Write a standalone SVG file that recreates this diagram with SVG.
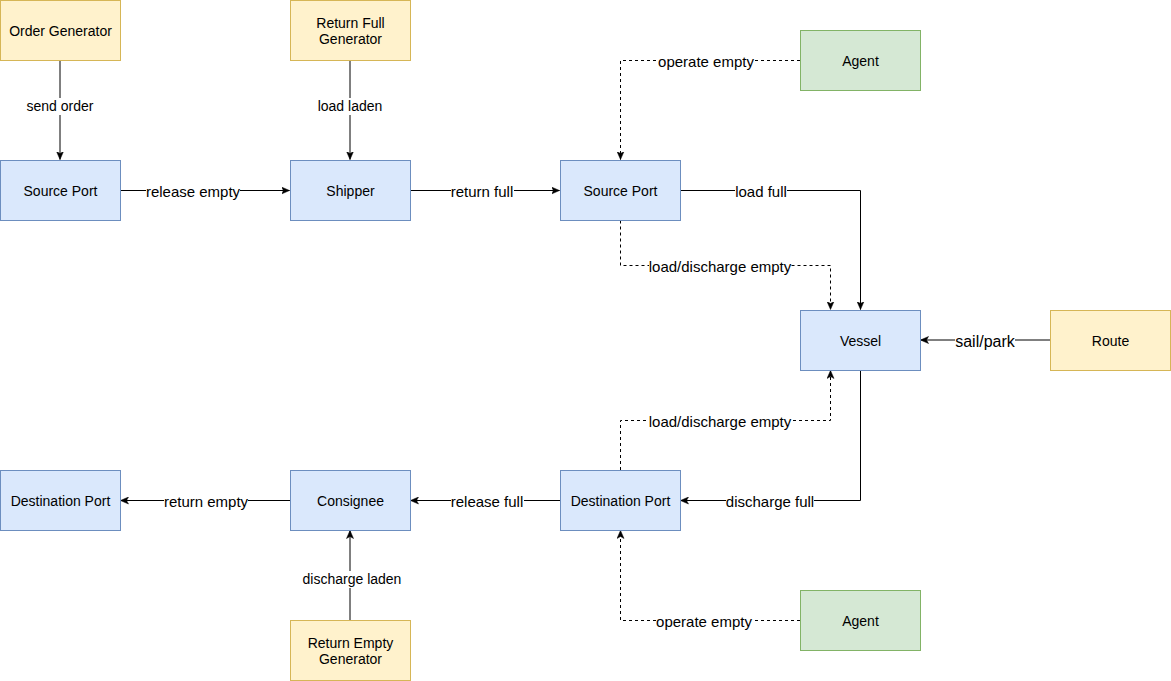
<svg xmlns="http://www.w3.org/2000/svg" width="1171" height="681" viewBox="0 0 1171 681">
<style>
.n rect{stroke-width:1}
.blue{fill:#dae8fc;stroke:#6c8ebf}
.yel{fill:#fff2cc;stroke:#d6b656}
.grn{fill:#d5e8d4;stroke:#82b366}
.t{font-family:"Liberation Sans",Arial,sans-serif;font-size:14px;fill:#000;text-anchor:middle}
.e path{fill:none;stroke:#000;stroke-width:1}
.e .d{stroke-dasharray:3 3}
.lb{fill:#fff;stroke:none}
.l{font-family:"Liberation Sans",Arial,sans-serif;font-size:15px;fill:#000;text-anchor:middle}
.s{font-size:14px}
</style>
<defs>
<marker id="a" viewBox="0 0 8 8" refX="8" refY="4" markerWidth="8" markerHeight="8" markerUnits="userSpaceOnUse" orient="auto">
<path d="M0,0.5 L8,4 L0,7.5 L2,4 Z" fill="#000" stroke="#000" stroke-width="0.5"/>
</marker>
</defs>
<rect width="1171" height="681" fill="#fff"/>

<g id="connectors" class="e">
<path d="M60,60.5 V159.5" marker-end="url(#a)"/>
<path d="M350,60.5 V159.5" marker-end="url(#a)"/>
<path d="M120.5,190.5 H289.5" marker-end="url(#a)"/>
<path d="M410.5,190.5 H559.5" marker-end="url(#a)"/>
<path class="d" d="M800,60.5 H620.5 V159.5" marker-end="url(#a)"/>
<path d="M680.5,190.5 H860.5 V309.5" marker-end="url(#a)"/>
<path class="d" d="M620.5,220.5 V265.5 H830.5 V309.5" marker-end="url(#a)"/>
<path d="M1050,340 H920.5" marker-end="url(#a)"/>
<path d="M860.5,370.5 V500.5 H680.5" marker-end="url(#a)"/>
<path class="d" d="M620.5,470 V420.5 H830.5 V370.5" marker-end="url(#a)"/>
<path class="d" d="M800,620.5 H620.5 V530.5" marker-end="url(#a)"/>
<path d="M560,500.5 H410.5" marker-end="url(#a)"/>
<path d="M290,500.5 H120.5" marker-end="url(#a)"/>
<path d="M350,620 V530.5" marker-end="url(#a)"/>

<rect class="lb" x="26" y="98" width="68" height="17"/>
<text class="l s" x="60" y="111">send order</text>
<rect class="lb" x="317" y="98" width="66" height="17"/>
<text class="l s" x="350" y="111">load laden</text>
<rect class="lb" x="146" y="182" width="94" height="17"/>
<text class="l" x="193" y="197">release empty</text>
<rect class="lb" x="451" y="182" width="63" height="17"/>
<text class="l" x="482" y="197">return full</text>
<rect class="lb" x="735" y="182" width="52" height="17"/>
<text class="l" x="761" y="197">load full</text>
<rect class="lb" x="658" y="52" width="96" height="17"/>
<text class="l" x="706" y="67">operate empty</text>
<rect class="lb" x="649" y="257" width="142" height="17"/>
<text class="l" x="720" y="272">load/discharge empty</text>
<rect class="lb" x="955" y="332" width="60" height="17"/>
<text class="l" x="985" y="347" style="font-size:16px">sail/park</text>
<rect class="lb" x="649" y="412" width="142" height="17"/>
<text class="l" x="720" y="427">load/discharge empty</text>
<rect class="lb" x="726" y="492" width="88" height="17"/>
<text class="l" x="770" y="507">discharge full</text>
<rect class="lb" x="656" y="612" width="96" height="17"/>
<text class="l" x="704" y="627">operate empty</text>
<rect class="lb" x="451" y="492" width="73" height="17"/>
<text class="l" x="487" y="507">release full</text>
<rect class="lb" x="164" y="492" width="84" height="17"/>
<text class="l" x="206" y="507">return empty</text>
<rect class="lb" x="302" y="571" width="100" height="17"/>
<text class="l s" x="352" y="584">discharge laden</text>
</g>

<g id="order-generator" class="n"><rect class="yel" x="0.5" y="0.5" width="120" height="60"/><text class="t" x="60.5" y="36">Order Generator</text></g>
<g id="return-full-generator" class="n"><rect class="yel" x="290.5" y="0.5" width="120" height="60"/><text class="t" x="350.5" y="28">Return Full</text><text class="t" x="350.5" y="44">Generator</text></g>
<g id="source-port-1" class="n"><rect class="blue" x="0.5" y="160.5" width="120" height="60"/><text class="t" x="60.5" y="196">Source Port</text></g>
<g id="shipper" class="n"><rect class="blue" x="290.5" y="160.5" width="120" height="60"/><text class="t" x="350.5" y="196">Shipper</text></g>
<g id="source-port-2" class="n"><rect class="blue" x="560.5" y="160.5" width="120" height="60"/><text class="t" x="620.5" y="196">Source Port</text></g>
<g id="agent-1" class="n"><rect class="grn" x="800.5" y="30.5" width="120" height="60"/><text class="t" x="860.5" y="66">Agent</text></g>
<g id="vessel" class="n"><rect class="blue" x="800.5" y="310.5" width="120" height="60"/><text class="t" x="860.5" y="346">Vessel</text></g>
<g id="route" class="n"><rect class="yel" x="1050.5" y="310.5" width="120" height="60"/><text class="t" x="1110.5" y="346">Route</text></g>
<g id="destination-port-1" class="n"><rect class="blue" x="0.5" y="470.5" width="120" height="60"/><text class="t" x="60.5" y="506">Destination Port</text></g>
<g id="consignee" class="n"><rect class="blue" x="290.5" y="470.5" width="120" height="60"/><text class="t" x="350.5" y="506">Consignee</text></g>
<g id="destination-port-2" class="n"><rect class="blue" x="560.5" y="470.5" width="120" height="60"/><text class="t" x="620.5" y="506">Destination Port</text></g>
<g id="agent-2" class="n"><rect class="grn" x="800.5" y="590.5" width="120" height="60"/><text class="t" x="860.5" y="626">Agent</text></g>
<g id="return-empty-generator" class="n"><rect class="yel" x="290.5" y="620.5" width="120" height="60"/><text class="t" x="350.5" y="648">Return Empty</text><text class="t" x="350.5" y="664">Generator</text></g>
</svg>
